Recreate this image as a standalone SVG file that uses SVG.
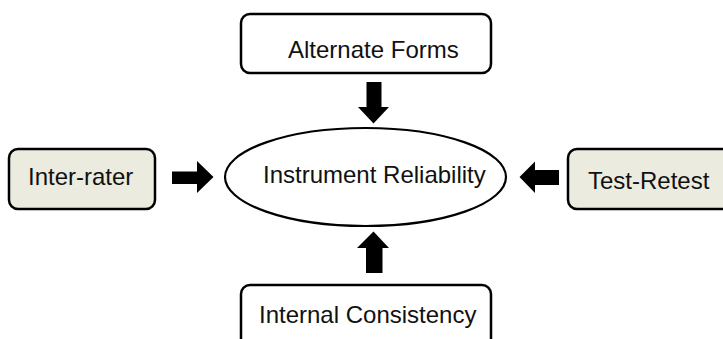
<svg xmlns="http://www.w3.org/2000/svg" width="723" height="339" viewBox="0 0 723 339">
<style>
.box{stroke:#000;stroke-width:2.5}
.tan{fill:#ecebe0}
.white{fill:#fff}
.lbl{font-family:"Liberation Sans",Arial,sans-serif;font-size:24px;fill:#111}
.arr{fill:#000}
</style>
<rect width="723" height="339" fill="#fff"/>
<g id="alternate-forms">
<rect class="box white" x="241" y="14" width="250" height="59" rx="9"/>
<text class="lbl" x="288" y="58">Alternate Forms</text>
</g>
<g id="inter-rater">
<rect class="box tan" x="9" y="149" width="146" height="60" rx="9"/>
<text class="lbl" x="28" y="185">Inter-rater</text>
</g>
<g id="test-retest">
<rect class="box tan" x="568" y="149" width="170" height="60" rx="9"/>
<text class="lbl" x="588" y="189">Test-Retest</text>
</g>
<g id="internal-consistency">
<rect class="box white" x="241" y="285" width="250" height="70" rx="9"/>
<text class="lbl" x="259" y="323">Internal Consistency</text>
</g>
<g id="instrument-reliability">
<ellipse cx="365.5" cy="177" rx="140.5" ry="49" fill="#fff" stroke="#000" stroke-width="2.2"/>
<text class="lbl" x="263" y="183">Instrument Reliability</text>
</g>
<g id="connectors">
<polygon class="arr" points="366.5,82 381.5,82 381.5,107 389,107 373.5,123.5 358,107 366.5,107"/>
<polygon class="arr" points="366,273 382.5,273 382.5,248 389,248 373.5,231.5 357,248 366,248"/>
<polygon class="arr" points="172,171.5 197,171.5 197,161 213.5,177 197,193 197,184 172,184"/>
<polygon class="arr" points="559,170 535,170 535,161.5 519.5,177 535,193 535,185 559,185"/>
</g>
</svg>
